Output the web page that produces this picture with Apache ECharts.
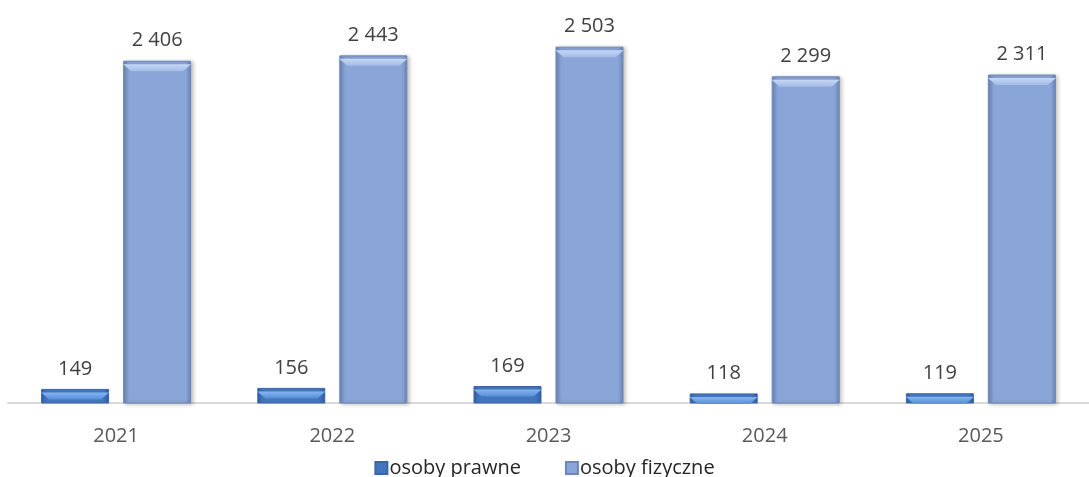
<!DOCTYPE html>
<html><head><meta charset="utf-8">
<script src="https://cdn.jsdelivr.net/npm/echarts@6/dist/echarts.min.js"></script>
<style>html,body{margin:0;padding:0;background:#fff}#c{width:1089px;height:477px}</style>
</head><body><div id="c"></div>
<script>
var categories = ['2021', '2022', '2023', '2024', '2025'];
var prawne = [149, 156, 169, 118, 119];
var fizyczne = [2406, 2443, 2503, 2299, 2311];
var seriesNames = ['osoby prawne', 'osoby fizyczne'];

function fmt(v) { return String(v).replace(/\B(?=(\d{3})+(?!\d))/g, ' '); }
function hgrad(edge, mid) {
  return new echarts.graphic.LinearGradient(0, 0, 1, 0, [
    {offset: 0, color: edge}, {offset: 0.08, color: mid}, {offset: 0.92, color: mid}, {offset: 1, color: edge}
  ]);
}
var FONT = '"Open Sans", sans-serif';
var BW = 68, GAP = '20.6%';
var bevel = 'path://M0,0 L68,0 L60,8 L8,8 Z';

var chart = echarts.init(document.getElementById('c'));
chart.setOption({
  animation: false,
  grid: {left: 8, top: 18, width: 1091, bottom: 74, containLabel: false},
  xAxis: {
    type: 'category', data: categories,
    axisLine: {lineStyle: {color: '#d9d9d9', width: 2}},
    axisTick: {show: false},
    axisLabel: {fontFamily: FONT, fontSize: 20, color: '#595959', margin: 23}
  },
  yAxis: {type: 'value', min: 52, max: 2700, show: false, splitLine: {show: false}},
  legend: {
    data: seriesNames, top: 453, left: 'center', icon: 'rect',
    itemWidth: 12, itemHeight: 12, itemGap: 44,
    textStyle: {fontFamily: FONT, fontSize: 20, color: '#262626', padding: [0, 0, 0, -3]}
  },
  series: [
    {
      name: seriesNames[0], type: 'bar', data: prawne, barWidth: BW, barGap: GAP,
      itemStyle: {color: hgrad('#30599a', '#4275be'), borderColor: '#3a65a6', borderWidth: 1},
      label: {show: true, position: 'top', distance: 10, fontFamily: FONT, fontSize: 20, color: '#404040', formatter: function (p) { return fmt(p.value); }}
    },
    {
      name: seriesNames[1], type: 'bar', data: fizyczne, barWidth: BW, barGap: GAP,
      itemStyle: {color: hgrad('#6a84b6', '#8aa5d7'), borderColor: '#6d87b8', borderWidth: 1,
        shadowColor: 'rgba(0,0,0,0.25)', shadowBlur: 4, shadowOffsetX: 2, shadowOffsetY: 1},
      label: {show: true, position: 'top', distance: 10, fontFamily: FONT, fontSize: 20, color: '#404040', formatter: function (p) { return fmt(p.value); }}
    },
    {
      name: 'bevel1', type: 'pictorialBar', data: prawne, barWidth: BW, barGap: GAP,
      symbol: bevel, symbolSize: [BW, 7], symbolPosition: 'end', symbolOffset: [0, '50%'],
      itemStyle: {color: new echarts.graphic.LinearGradient(0, 0, 0, 1, [{offset: 0, color: '#86b6f0'}, {offset: 1, color: '#568ed6'}])},
      z: 3, silent: true
    },
    {
      name: 'bevel2', type: 'pictorialBar', data: fizyczne, barWidth: BW, barGap: GAP,
      symbol: bevel, symbolSize: [BW, 7], symbolPosition: 'end', symbolOffset: [0, '50%'],
      itemStyle: {color: new echarts.graphic.LinearGradient(0, 0, 0, 1, [{offset: 0, color: '#c6d7f4'}, {offset: 1, color: '#a2bbe6'}])},
      z: 3, silent: true
    }
  ]
});
</script>
</body></html>
